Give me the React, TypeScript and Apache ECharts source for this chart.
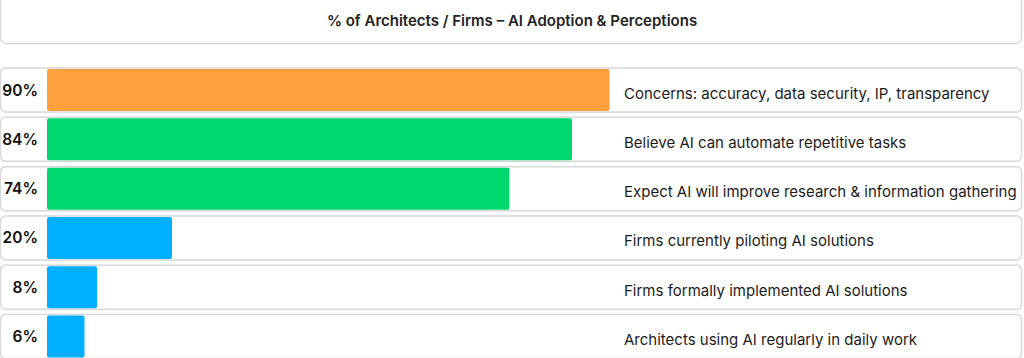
import React, { useEffect, useRef } from "react";
import * as echarts from "echarts";

const titleText = "% of Architects / Firms – AI Adoption & Perceptions";
const categories = [
  "Concerns: accuracy, data security, IP, transparency",
  "Believe AI can automate repetitive tasks",
  "Expect AI will improve research & information gathering",
  "Firms currently piloting AI solutions",
  "Firms formally implemented AI solutions",
  "Architects using AI regularly in daily work",
];
const values = [90, 84, 74, 20, 8, 6];
const barColors = ["#FFA03C", "#00D76F", "#00D76F", "#00AFFF", "#00AFFF", "#00AFFF"];

const FONT = "Inter, 'Noto Sans', sans-serif";

export default function App() {
  const ref = useRef<HTMLDivElement>(null);
  useEffect(() => {
    document.body.style.margin = "0";
    const chart = echarts.init(ref.current!, null, { renderer: "svg" });
    const W = 1024;
    chart.setOption({
      animation: false,
      backgroundColor: "#ffffff",
      graphic: [
        {
          type: "rect",
          z: 0,
          shape: { x: 0.5, y: -10, width: W - 3, height: 53.5, r: 6 },
          style: { fill: "#fff", stroke: "#d9d9d9", lineWidth: 1.5, shadowBlur: 2, shadowColor: "rgba(0,0,0,0.06)" },
        },
        {
          type: "text",
          z: 1,
          x: W / 2,
          y: 20,
          style: {
            text: titleText,
            fill: "#222",
            font: `600 15px ${FONT}`,
            align: "center",
            verticalAlign: "middle",
          },
        },
      ],
      grid: { left: 47, top: 65.4, width: 625, height: 295.8, containLabel: false, outerBoundsMode: "none" },
      xAxis: {
        type: "value",
        min: 0,
        max: 100,
        show: false,
      },
      yAxis: {
        type: "category",
        data: categories,
        inverse: true,
        axisLine: { show: false },
        axisTick: { show: false },
        axisLabel: {
          margin: 9,
          formatter: (_v: string, i: number) => `${values[i]}%`,
          color: "#111111",
          fontFamily: FONT,
          fontSize: 15.5,
          fontWeight: 600,
          padding: [5, 0, 0, 0],
        },
        z: 5,
      },
      series: [
        {
          type: "custom",
          z: 1,
          data: values.map((v, i) => [v, i]),
          renderItem: (params: any, api: any) => {
            const idx = api.value(1);
            const c = api.coord([0, idx]);
            const cy = c[1];
            return {
              type: "group",
              children: [
                {
                  type: "rect",
                  shape: { x: 0.5, y: cy - 22, width: W - 3, height: 44, r: 5 },
                  style: { fill: "#fff", stroke: "#d9d9d9", lineWidth: 1.5, shadowBlur: 2, shadowColor: "rgba(0,0,0,0.06)" },
                },
                {
                  type: "text",
                  z2: 10,
                  style: {
                    text: categories[idx],
                    x: 624,
                    y: cy + 3,
                    fill: "#1c1c1c",
                    font: `400 15px ${FONT}`,
                    align: "left",
                    verticalAlign: "middle",
                  },
                },
              ],
            };
          },
        },
        {
          type: "bar",
          z: 2,
          barWidth: 42,
          data: values.map((v, i) => ({ value: v, itemStyle: { color: barColors[i], borderRadius: 2 } })),
        },
      ],
    });
    return () => chart.dispose();
  }, []);
  return <div ref={ref} style={{ width: 1024, height: 358 }} />;
}
